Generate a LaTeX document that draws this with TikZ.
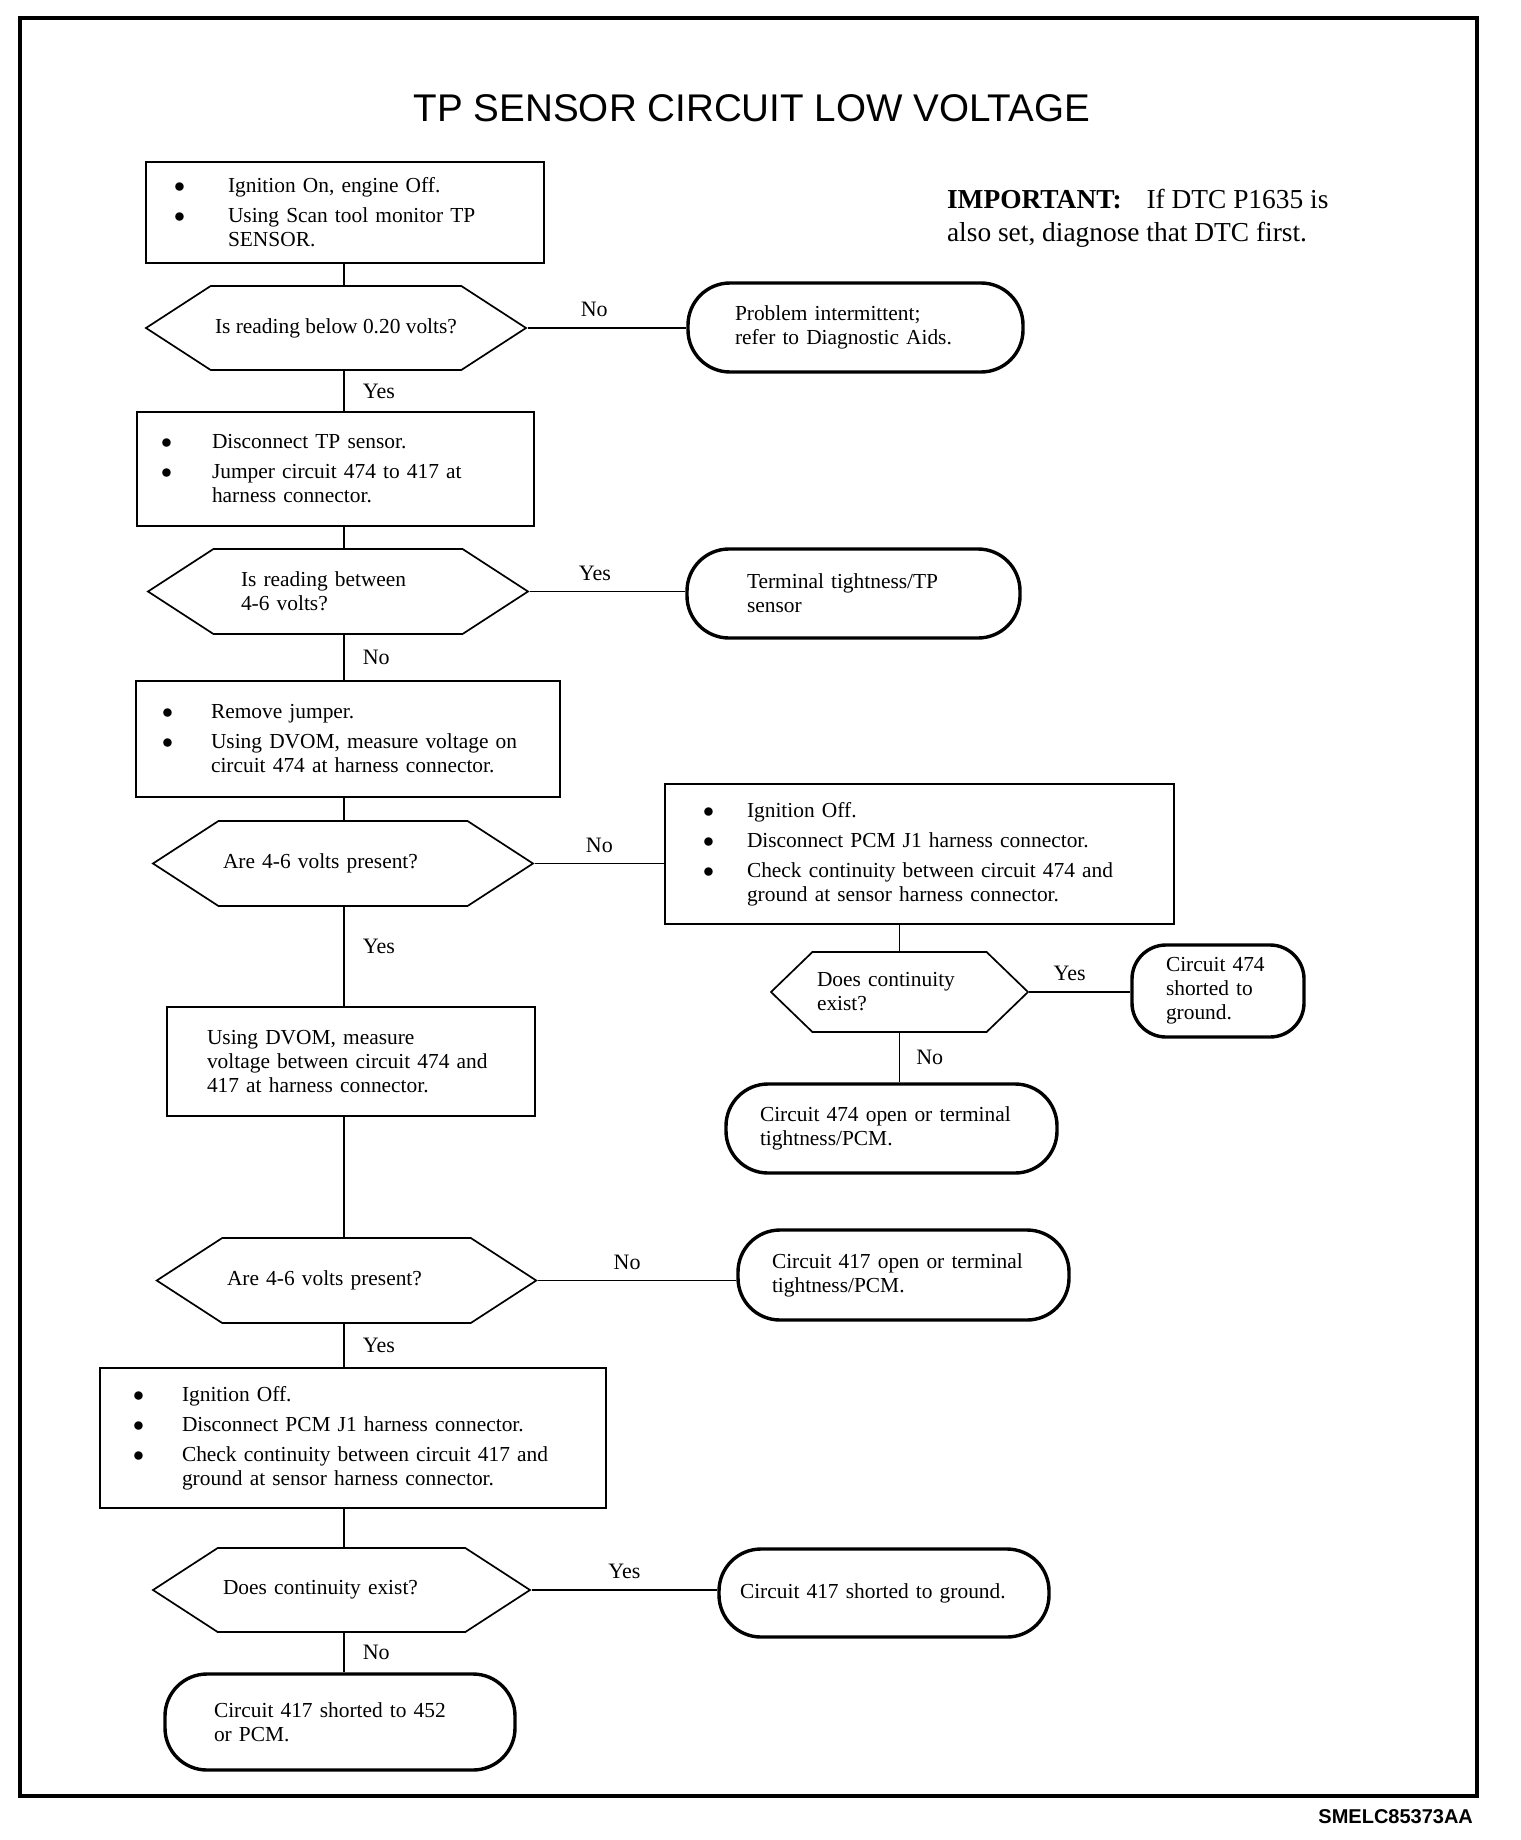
\documentclass[tikz,border=0pt]{standalone}
\usepackage{fontspec}
\setmainfont{Liberation Serif}
\newfontfamily\arialfont{Liberation Sans}
\usetikzlibrary{shapes.symbols, positioning}

\newcommand{\blt}[1][24pt]{\makebox[#1][l]{$\bullet$}}
\newcommand{\ind}[1][24pt]{\hspace*{#1}}

\begin{document}
\begin{tikzpicture}[x=0.5pt, y=-0.5pt,
    stepbox/.style={draw, rectangle, line width=0.85pt, inner xsep=0pt, align=left, font=\fontsize{10.7}{12}\selectfont},
    decision/.style={draw, signal, signal to=east and west, signal pointer angle=66, line width=0.85pt, inner xsep=0pt, align=left, font=\fontsize{10.7}{12}\selectfont},
    endbox/.style={draw, rectangle, rounded corners=21pt, line width=1.7pt, inner xsep=0pt, align=left, font=\fontsize{10.7}{12}\selectfont},
    link/.style={line width=0.85pt},
    answer/.style={font=\fontsize{11}{12}\selectfont, inner sep=2pt}]
    \useasboundingbox (0,0) rectangle (1520,1840);

    % Frame
    \draw[line width=2pt] (20,18) rectangle (1477,1796);
    \node[anchor=east, font=\arialfont\bfseries\fontsize{10}{12}\selectfont] (code) at (1480,1817) {SMELC85373AA};

    % Title and note
    \node[font=\arialfont\fontsize{19.3}{22}\selectfont] (title) at (752,108) {TP SENSOR CIRCUIT LOW VOLTAGE};
    \node[anchor=west, align=left, font=\fontsize{13.7}{16.5}\selectfont] (note) at (940,218) {\textbf{IMPORTANT:}\hspace{9pt} If DTC P1635 is\\also set, diagnose that DTC first.};

    % Main column
    \node[stepbox, minimum width=199pt, minimum height=50.5pt, text width=171pt] (scan) at (345,212.5)
        {\blt[27pt]Ignition On, engine Off.\\[3pt]\blt[27pt]Using Scan tool monitor TP\\\ind[27pt]SENSOR.};
    \node[decision, align=center, minimum width=190pt, minimum height=42pt] (readlow) at (336,328) {Is reading below 0.20 volts?};
    \node[stepbox, minimum width=198.5pt, minimum height=57pt, text width=174.5pt] (jumper) at (335.5,469)
        {\blt[25.5pt]Disconnect TP sensor.\\[3pt]\blt[25.5pt]Jumper circuit 474 to 417 at\\\ind[25.5pt]harness connector.};
    \node[decision, minimum width=190pt, minimum height=42.5pt, text width=97pt] (readmid) at (338,591.5) {Is reading between\\4-6 volts?};
    \node[stepbox, minimum width=212pt, minimum height=58pt, text width=186pt] (dvom474) at (348,739)
        {\blt[24.5pt]Remove jumper.\\[3pt]\blt[24.5pt]Using DVOM, measure voltage on\\\ind[24.5pt]circuit 474 at harness connector.};
    \node[decision, minimum width=190pt, minimum height=42.5pt, text width=120pt] (volts474) at (343,863.5) {Are 4-6 volts present?};
    \node[stepbox, minimum width=184pt, minimum height=54.5pt, text width=144pt] (dvom417) at (351,1061.5)
        {Using DVOM, measure\\voltage between circuit 474 and\\417 at harness connector.};
    \node[decision, minimum width=189.75pt, minimum height=42.5pt, text width=119.5pt] (volts417) at (346.5,1280.5) {Are 4-6 volts present?};
    \node[stepbox, minimum width=253pt, minimum height=70pt, text width=220pt] (check417) at (353,1438)
        {\blt[24.5pt]Ignition Off.\\[3pt]\blt[24.5pt]Disconnect PCM J1 harness connector.\\[3pt]\blt[24.5pt]Check continuity between circuit 417 and\\\ind[24.5pt]ground at sensor harness connector.};
    \node[decision, minimum width=188.5pt, minimum height=42pt, text width=118.5pt] (cont417) at (341.5,1590) {Does continuity exist?};
    \node[endbox, minimum width=175pt, minimum height=48pt, text width=126pt] (short452) at (340,1722) {Circuit 417 shorted to 452\\or PCM.};

    % Right column
    \node[endbox, minimum width=167.5pt, minimum height=44.5pt, text width=120.5pt] (intermit) at (855.5,327.5) {Problem intermittent;\\refer to Diagnostic Aids.};
    \node[endbox, minimum width=166.5pt, minimum height=44.5pt, text width=106.5pt] (tightTP) at (853.5,593.5) {Terminal tightness/TP\\sensor};
    \node[stepbox, minimum width=254.5pt, minimum height=70pt, text width=216.5pt] (check474) at (919.5,854)
        {\blt[22pt]Ignition Off.\\[3pt]\blt[22pt]Disconnect PCM J1 harness connector.\\[3pt]\blt[22pt]Check continuity between circuit 474 and\\\ind[22pt]ground at sensor harness connector.};
    \node[decision, signal pointer angle=88, minimum width=128.5pt, minimum height=40pt, text width=82.5pt] (cont474) at (899.5,992) {Does continuity\\exist?};
    \node[endbox, rounded corners=17pt, minimum width=86pt, minimum height=46pt, text width=52pt] (short474) at (1218,991) {Circuit 474\\shorted to\\ground.};
    \node[endbox, minimum width=165.5pt, minimum height=44.5pt, text width=131.5pt] (open474) at (891.5,1128.5) {Circuit 474 open or terminal\\tightness/PCM.};
    \node[endbox, minimum width=165.5pt, minimum height=45pt, text width=131.5pt] (open417) at (903.5,1275) {Circuit 417 open or terminal\\tightness/PCM.};
    \node[endbox, minimum width=165pt, minimum height=44pt, text width=144pt] (short417) at (884,1593) {Circuit 417 shorted to ground.};

    % Connectors
    \coordinate (spine) at (344,0);
    \draw[link] (scan.south -| spine) -- (readlow.north -| spine);
    \draw[link] (readlow.south -| spine) -- node[answer, right=7pt] {Yes} (jumper.north -| spine);
    \draw[link] (jumper.south -| spine) -- (readmid.north -| spine);
    \draw[link] (readmid.south -| spine) -- node[answer, right=7pt] {No} (dvom474.north -| spine);
    \draw[link] (dvom474.south -| spine) -- (volts474.north -| spine);
    \draw[link] (volts474.south -| spine) -- node[answer, right=7pt, pos=0.4] {Yes} (dvom417.north -| spine);
    \draw[link] (dvom417.south -| spine) -- (volts417.north -| spine);
    \draw[link] (volts417.south -| spine) -- node[answer, right=7pt] {Yes} (check417.north -| spine);
    \draw[link] (check417.south -| spine) -- (cont417.north -| spine);
    \draw[link] (cont417.south -| spine) -- node[answer, right=7pt] {No} (short452.north -| spine);

    \draw[link] (readlow.east) -- node[answer, above=3pt, pos=0.42] {No} (readlow.east -| intermit.west);
    \draw[link] (readmid.east) -- node[answer, above=3pt, pos=0.42] {Yes} (readmid.east -| tightTP.west);
    \draw[link] (volts474.east) -- node[answer, above=3pt] {No} (volts474.east -| check474.west);
    \draw[link] (check474.south -| cont474.north) -- (cont474.north);
    \draw[link] (cont474.east) -- node[answer, above=3pt, pos=0.4] {Yes} (cont474.east -| short474.west);
    \draw[link] (cont474.south) -- node[answer, right=6pt] {No} (cont474.south |- open474.north);
    \draw[link] (volts417.east) -- node[answer, above=3pt, pos=0.45] {No} (volts417.east -| open417.west);
    \draw[link] (cont417.east) -- node[answer, above=3pt] {Yes} (cont417.east -| short417.west);
\end{tikzpicture}
\end{document}
